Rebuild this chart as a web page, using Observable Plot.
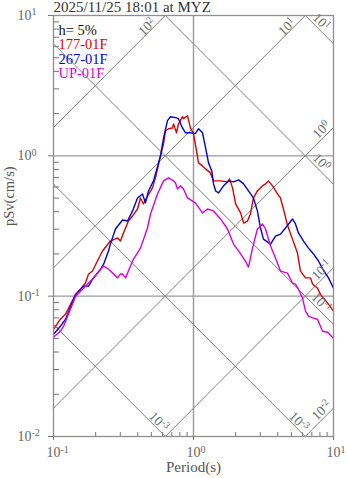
<!DOCTYPE html>
<html><head><meta charset="utf-8">
<script src="https://cdn.jsdelivr.net/npm/d3@7"></script>
<script src="https://cdn.jsdelivr.net/npm/@observablehq/plot@0.6"></script>
<style>
body{margin:0;background:#fff;}
#chart svg{font-family:"Liberation Serif","Times New Roman",serif;background:#fff;overflow:visible;}
</style>
</head><body><div id="chart"></div>
<script>
// ---------- data ----------
const titleText = "2025/11/25 18:01 at MYZ";
const xLabel = "Period(s)";
const yLabel = "pSv(cm/s)";
const legendTexts = ["h= 5%", "177-01F", "267-01F", "UP-01F"];
const legendColors = ["#111111", "#dd0000", "#0000dd", "#dd00dd"];

const periodDomain = [0.1, 10];
const psvDomain = [0.01, 10];
const xTicks = [0.1, 1, 10];
const yTicks = [0.01, 0.1, 1, 10];
const xTickLabels = ["10^-1", "10^0", "10^1"];
const yTickLabels = ["10^-2", "10^-1", "10^0", "10^1"];

// tripartite grid: pseudo-acceleration (cm/s^2) and displacement (cm)
const accelLevels = [0.01, 0.1, 1, 10, 100];
const accelLabels = ["10^-2", "10^-1", "10^0", "10^1", "10^2"];
const dispLevels = [0.001, 0.01, 0.1, 1, 10];
const dispLabels = ["10^-3", "10^-3", "10^-1", "10^0", "10^1"];

// [period (s), pSv (cm/s)]
const series177 = [[0.1,0.058],[0.112,0.0685],[0.122,0.0744],[0.144,0.103],[0.156,0.112],[0.169,0.124],[0.178,0.144],[0.19,0.151],[0.206,0.178],[0.224,0.21],[0.255,0.247],[0.287,0.26],[0.301,0.247],[0.316,0.282],[0.343,0.343],[0.367,0.373],[0.398,0.418],[0.418,0.501],[0.439,0.454],[0.462,0.501],[0.509,0.591],[0.535,0.697],[0.581,1.0],[0.611,1.22],[0.631,1.51],[0.663,1.56],[0.708,1.58],[0.72,1.69],[0.756,1.46],[0.781,1.69],[0.834,1.9],[0.848,1.84],[0.906,1.93],[0.951,1.58],[1.0,1.44],[1.05,1.09],[1.086,0.891],[1.16,0.848],[1.22,0.807],[1.32,0.756],[1.39,0.663],[1.56,0.663],[1.75,0.652],[1.81,0.685],[1.9,0.591],[2.0,0.454],[2.17,0.392],[2.28,0.332],[2.43,0.343],[2.55,0.385],[2.68,0.501],[2.86,0.562],[3.11,0.611],[3.27,0.631],[3.43,0.663],[3.67,0.611],[3.98,0.535],[4.18,0.501],[4.39,0.418],[4.69,0.321],[5.09,0.255],[5.53,0.203],[5.81,0.151],[6.31,0.135],[6.85,0.135],[7.08,0.122],[7.69,0.114],[8.07,0.103],[8.48,0.0968],[9.21,0.0877],[10,0.0782]];
const series267 = [[0.1,0.0535],[0.112,0.0611],[0.122,0.0685],[0.144,0.103],[0.164,0.118],[0.178,0.118],[0.19,0.132],[0.206,0.146],[0.217,0.156],[0.228,0.169],[0.247,0.21],[0.255,0.235],[0.277,0.301],[0.311,0.349],[0.338,0.343],[0.367,0.405],[0.398,0.501],[0.432,0.535],[0.454,0.462],[0.477,0.562],[0.518,0.663],[0.581,1.0],[0.611,1.34],[0.652,1.78],[0.685,1.9],[0.744,1.87],[0.781,1.84],[0.834,1.58],[0.877,1.46],[0.951,1.46],[1.03,1.44],[1.086,1.56],[1.16,1.46],[1.22,1.14],[1.28,0.891],[1.35,0.782],[1.39,0.631],[1.44,0.562],[1.51,0.544],[1.64,0.611],[1.78,0.663],[1.93,0.652],[2.1,0.674],[2.28,0.631],[2.47,0.562],[2.68,0.501],[2.86,0.405],[3.01,0.306],[3.16,0.255],[3.55,0.235],[3.85,0.268],[4.18,0.277],[4.54,0.306],[5.09,0.355],[5.35,0.327],[5.62,0.282],[6.11,0.247],[6.63,0.22],[7.2,0.2],[7.81,0.178],[8.48,0.153],[9.21,0.135],[10,0.114]];
const seriesUP = [[0.1,0.051],[0.112,0.0562],[0.118,0.0611],[0.144,0.1],[0.164,0.114],[0.193,0.135],[0.228,0.164],[0.247,0.156],[0.287,0.135],[0.301,0.144],[0.311,0.144],[0.327,0.135],[0.355,0.164],[0.373,0.184],[0.418,0.22],[0.469,0.306],[0.493,0.385],[0.553,0.535],[0.611,0.663],[0.663,0.697],[0.72,0.663],[0.744,0.641],[0.769,0.581],[0.807,0.611],[0.848,0.581],[0.906,0.501],[1.03,0.462],[1.16,0.392],[1.26,0.418],[1.39,0.405],[1.56,0.355],[1.75,0.301],[1.93,0.235],[2.1,0.21],[2.35,0.178],[2.47,0.161],[2.64,0.22],[2.86,0.301],[3.11,0.327],[3.27,0.301],[3.55,0.228],[3.85,0.187],[4.18,0.151],[4.69,0.146],[5.09,0.124],[5.35,0.122],[5.62,0.112],[6.01,0.0968],[6.31,0.0782],[6.63,0.072],[7.2,0.0697],[7.69,0.0685],[8.35,0.0562],[9.06,0.0553],[10,0.0501]];

// ---------- layout ----------
const W = 347, H = 478;
const mL = 53, mR = 14, mT = 15, mB = 42;
const plotW = W - mL - mR, plotH = H - mT - mB;
const pxPerDec = plotW / Math.log10(periodDomain[1] / periodDomain[0]);
const TWO_PI = 2 * Math.PI;
const [T0, T1] = periodDomain, [V0, V1] = psvDomain;

function minorsOf(domain) {
  const out = [];
  for (let e = Math.round(Math.log10(domain[0])); e < Math.round(Math.log10(domain[1])); e++)
    for (let k = 2; k <= 9; k++) out.push(k * 10 ** e);
  return out;
}
const xMinor = minorsOf(periodDomain), yMinor = minorsOf(psvDomain);

// diagonal segments
const diag = [];
const diagLabels = [];
const S2 = Math.SQRT2;
const shift = px => 10 ** (px / (S2 * pxPerDec));
accelLevels.forEach((a, i) => {
  const tA = Math.max(T0, V0 * TWO_PI / a), tB = Math.min(T1, V1 * TWO_PI / a);
  const vB = a * tB / TWO_PI;
  diag.push({k: "a" + i, T: tA, v: a * tA / TWO_PI}, {k: "a" + i, T: tB, v: vB});
  const top = tB < T1;
  const along = top ? 21 : 10, perp = top ? 5 : 7;
  const f = shift(along), g = shift(perp);
  diagLabels.push({T: tB / f / g, v: vB / f * g, r: -45, t: accelLabels[i]});
});
dispLevels.forEach((d, i) => {
  const tA = Math.max(T0, TWO_PI * d / V1), tB = Math.min(T1, TWO_PI * d / V0);
  const vB = TWO_PI * d / tB;
  diag.push({k: "d" + i, T: tA, v: TWO_PI * d / tA}, {k: "d" + i, T: tB, v: vB});
  const right = tB >= T1;
  const along = right ? 24 : 15, perp = right ? 7 : 6;
  const f = shift(along), g = shift(perp);
  diagLabels.push({T: tB / f * g, v: vB * f * g, r: 45, t: dispLabels[i]});
});

const curves = [series177, series267, seriesUP];

const plot = Plot.plot({
  width: W, height: H,
  marginLeft: mL, marginRight: mR, marginTop: mT, marginBottom: mB,
  x: {type: "log", domain: periodDomain, axis: null},
  y: {type: "log", domain: psvDomain, axis: null},
  style: {fontFamily: "'Liberation Serif', serif", background: "#fff"},
  marks: [
    Plot.ruleX([1], {x: d => d, stroke: "#9a9a9a", strokeWidth: 1.4}),
    Plot.ruleY([0.1, 1], {y: d => d, stroke: "#9a9a9a", strokeWidth: 1.4}),
    Plot.line(diag, {x: "T", y: "v", z: "k", stroke: "#7f7f7f", strokeWidth: 1}),
    ...curves.map((s, i) => Plot.line(s, {x: d => d[0], y: d => d[1], stroke: legendColors[i + 1], strokeWidth: 1.4})),
    Plot.frame({stroke: "#8f8f8f", strokeWidth: 1.3}),
    Plot.tickY(yMinor, {y: d => d, insetRight: plotW - 6, stroke: "#777"}),
    Plot.tickX(xMinor, {x: d => d, insetTop: plotH - 4, stroke: "#777"}),
    Plot.axisY(yTicks, {tickSize: 5, tickFormat: () => "", stroke: "#777", label: null}),
    Plot.axisX(xTicks, {tickSize: 4, tickFormat: () => "", stroke: "#777", label: null}),
    Plot.text(yTicks, {y: d => d, text: (d, i) => yTickLabels[i], frameAnchor: "left", dx: -36, textAnchor: "start", lineAnchor: "middle", fontSize: 14, fill: "#666", ariaLabel: "ytick"}),
    Plot.text(xTicks, {x: d => d, text: (d, i) => xTickLabels[i], frameAnchor: "bottom", dx: -7, dy: 11, textAnchor: "start", lineAnchor: "top", fontSize: 14, fill: "#666", ariaLabel: "xtick"}),
    Plot.text(diagLabels, {x: "T", y: "v", rotate: "r", text: "t", textAnchor: "middle", lineAnchor: "middle", fontSize: 13.5, fill: "#6a6a6a", ariaLabel: "diaglabel"}),
    Plot.text([xLabel], {frameAnchor: "bottom", dy: 25, lineAnchor: "top", fontSize: 15, fill: "#555", ariaLabel: "xlabel"}),
    Plot.text([yLabel], {frameAnchor: "left", dx: -44, rotate: -90, lineAnchor: "middle", fontSize: 14.5, fill: "#555", ariaLabel: "ylabel"}),
    Plot.text([titleText], {frameAnchor: "top-left", dy: -14.6, textAnchor: "start", lineAnchor: "top", fontSize: 15, fill: "#333", ariaLabel: "title"}),
    ...legendTexts.map((t, i) => Plot.text([t], {frameAnchor: "top-left", dx: 5, dy: 9.2 + i * 14.5, textAnchor: "start", lineAnchor: "top", fontSize: 14.5, fill: legendColors[i], ariaLabel: "legend"}))
  ]
});

// superscripts for 10^k labels
d3.select(plot).selectAll("text").each(function () {
  const m = /^10\^(-?\d+)$/.exec(this.textContent);
  if (!m) return;
  const el = d3.select(this);
  el.text(null);
  el.append("tspan").text("10");
  el.append("tspan").attr("dy", "-0.45em").attr("font-size", "0.72em").text(m[1]);
});
d3.select(plot).selectAll("g[aria-label=title] text").style("letter-spacing", "0.6px");
d3.select(plot).selectAll("g[aria-label=xlabel] text").style("letter-spacing", "1.2px");
d3.select(plot).selectAll("g[aria-label=ylabel] text").style("letter-spacing", "0.8px");
d3.select(plot).selectAll("g[aria-label=legend] text").style("letter-spacing", "0.4px");
d3.select(plot).selectAll("g[aria-label=xtick] text, g[aria-label=ytick] text").style("letter-spacing", "0.5px");

document.getElementById("chart").appendChild(plot);
</script>
</body></html>
